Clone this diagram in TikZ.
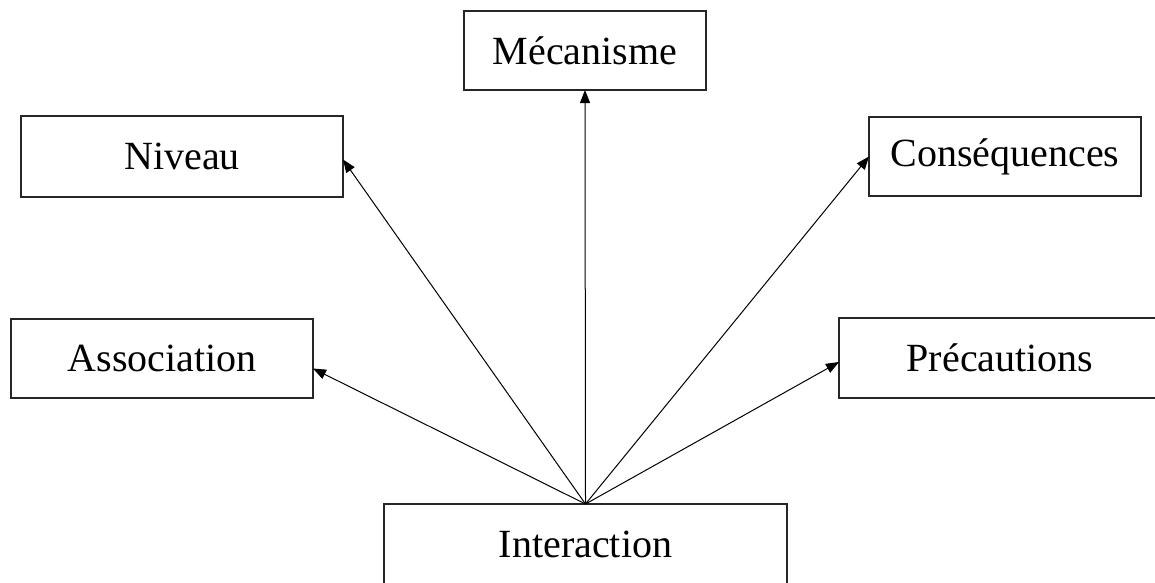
\documentclass[tikz,border=0pt]{standalone}
\usepackage{fontspec}
\setmainfont{Liberation Serif}
\usetikzlibrary{arrows.meta}
\begin{document}
\begin{tikzpicture}[x=1pt,y=-1pt,
  box/.style={draw=black!85,line width=1.3pt,fill=white,inner sep=0pt,outer sep=0pt,
    font=\fontsize{40}{48}\selectfont},
  link/.style={draw=black,line width=1pt,-{Triangle[length=13pt,width=10pt]}}]
\useasboundingbox (0,0) rectangle (1155,582);
\clip (0,0) rectangle (1155,582);
\node[box,minimum width=242pt,minimum height=79pt] (mec) at (585,50.5) {Mécanisme};
\node[box,minimum width=322pt,minimum height=81pt] (niv) at (182,156.5) {Niveau};
\node[box,minimum width=272pt,minimum height=79pt] (cons) at (1005,156.5) {Conséquences};
\node[box,minimum width=302pt,minimum height=79pt] (assoc) at (162,358.5) {Association};
\node[box,minimum width=322pt,minimum height=80pt] (prec) at (1000,358) {Précautions};
\node[box,minimum width=403pt,minimum height=80pt] (inter) at (585.5,544) {Interaction};
\coordinate (niveaupt) at ([yshift=-3pt]niv.east);
\coordinate (assocpt) at ([yshift=-10pt]assoc.east);
\coordinate (precpt) at ([yshift=-4pt]prec.west);
\draw[link] (inter.north) -- (mec.south);
\draw[link] (inter.north) -- (niveaupt);
\draw[link] (inter.north) -- (cons.west);
\draw[link] (inter.north) -- (assocpt);
\draw[link] (inter.north) -- (precpt);
\end{tikzpicture}
\end{document}
